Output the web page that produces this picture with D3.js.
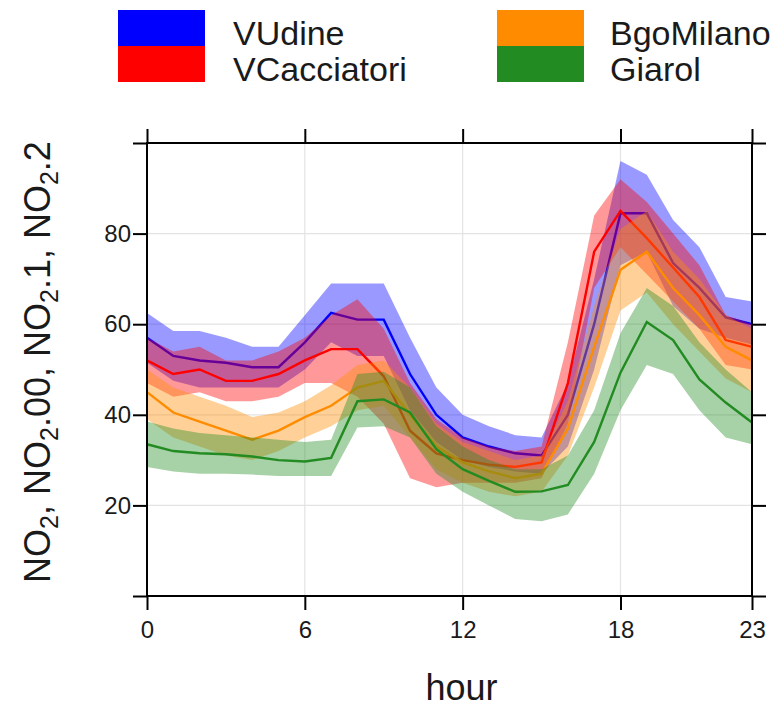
<!DOCTYPE html>
<html>
<head>
<meta charset="utf-8">
<script src="https://cdn.jsdelivr.net/npm/d3@7"></script>
<style>
  body { margin: 0; background: #fff; }
  svg text { font-family: "Liberation Sans", Arial, sans-serif; fill: #1a1a1a; }
</style>
</head>
<body>
<div id="chart"></div>
<script>
var hours = d3.range(0, 24);
var sites = ["VUdine", "VCacciatori", "BgoMilano", "Giarol"];
var siteColors = ["#0000ff", "#ff0000", "#ff8c00", "#228b22"];
var xTicks = [0, 6, 12, 18, 23];
var yTicks = [0, 20, 40, 60, 80, 100];
var yTickLabels = ["", "20", "40", "60", "80", ""];

var udineMean  = [57, 53, 52, 51.5, 50.5, 50.5, 56, 62.5, 61, 61, 49, 40, 35, 33, 31.5, 31, 40, 60, 84.5, 84.5, 73.5, 68, 61.5, 60];
var udineUpper = [62.5, 58.5, 58.5, 57, 55, 55, 62, 69, 69, 69, 57, 46, 40, 37.5, 35.5, 35, 47, 70, 96, 93, 83, 77, 66, 65];
var udineLower = [51.5, 47.5, 46, 46, 46, 46, 50, 56, 53, 53, 41, 34, 30, 28.5, 27.5, 27, 33, 50, 73, 76, 64, 59, 57, 55.5];

var cacciaMean  = [52, 49, 50, 47.5, 47.5, 49, 52, 54.5, 54.5, 48.5, 36.5, 31.5, 30, 29, 28.5, 29.5, 47, 76, 85, 79, 72.5, 66, 56.5, 55];
var cacciaUpper = [57, 54, 55, 52, 52, 54, 57, 62, 65.5, 59, 47, 39, 35, 33, 32, 33, 56, 84, 92, 87, 80, 73, 62, 60];
var cacciaLower = [47, 44, 45, 43, 43, 44, 47, 47, 44, 38, 26, 24, 25, 25, 25, 26, 38, 68, 77, 71, 65, 59, 51, 50];

var milanoMean  = [45, 40.5, 38.5, 36.5, 34.5, 36.5, 39.5, 42, 46, 47.5, 40, 33, 29.5, 27.5, 26, 27, 37, 55, 72, 76, 68, 62, 55, 52];
var milanoUpper = [50, 46, 44, 42, 39.5, 40.5, 43, 46.5, 51, 52, 46, 38, 34, 32, 30, 31, 43, 64, 81, 85, 76, 70, 62, 59];
var milanoLower = [39, 35, 33, 31, 30, 32, 35, 37.5, 41, 42, 35, 28, 25, 23, 22, 23, 31, 46, 63, 67, 60, 54, 48, 45];

var giarolMean  = [33.5, 32, 31.5, 31.3, 30.8, 30, 29.7, 30.5, 43, 43.4, 40.5, 32.4, 28, 25.4, 23, 23.1, 24.5, 34, 49.3, 60.5, 56.5, 47.8, 42.7, 38.3];
var giarolUpper = [38.5, 37, 36, 35.5, 35, 34.5, 34, 34.5, 49, 49.5, 46, 37.5, 33, 30, 28, 28, 31, 41, 58, 68, 64, 56, 50, 45];
var giarolLower = [28.5, 27.5, 27, 27, 26.8, 26.5, 26.5, 26.5, 37.2, 37.5, 35, 27, 23, 20, 17, 16.5, 18, 27, 41, 51, 49, 41, 35, 33.5];

var means  = [udineMean, cacciaMean, milanoMean, giarolMean];
var uppers = [udineUpper, cacciaUpper, milanoUpper, giarolUpper];
var lowers = [udineLower, cacciaLower, milanoLower, giarolLower];

var w = 773, h = 709;
var box = { left: 147, right: 752, top: 143, bottom: 596 };

var svg = d3.select("#chart").append("svg")
  .attr("width", w)
  .attr("height", h);

var x = d3.scaleLinear().domain([0, 23]).range([box.left, box.right]);
var y = d3.scaleLinear().domain([0, 100]).range([box.bottom, box.top]);

// grid
svg.append("g").selectAll("line.gx")
  .data([6, 12, 18]).enter().append("line")
  .attr("x1", function(d) { return x(d); }).attr("x2", function(d) { return x(d); })
  .attr("y1", box.top).attr("y2", box.bottom)
  .attr("stroke", "#e3e3e3").attr("stroke-width", 1.2);
svg.append("g").selectAll("line.gy")
  .data([20, 40, 60, 80]).enter().append("line")
  .attr("x1", box.left).attr("x2", box.right)
  .attr("y1", function(d) { return y(d); }).attr("y2", function(d) { return y(d); })
  .attr("stroke", "#e3e3e3").attr("stroke-width", 1.2);

// bands and lines, drawn site by site
var area = d3.area()
  .x(function(d) { return x(d.hour); })
  .y0(function(d) { return y(d.lo); })
  .y1(function(d) { return y(d.hi); });
var line = d3.line()
  .x(function(d) { return x(d.hour); })
  .y(function(d) { return y(d.mean); });

var plot = svg.append("g");
sites.forEach(function(site, i) {
  var rows = hours.map(function(hr, j) {
    return { hour: hr, mean: means[i][j], lo: lowers[i][j], hi: uppers[i][j] };
  });
  plot.append("path")
    .datum(rows)
    .attr("d", area)
    .attr("fill", siteColors[i])
    .attr("fill-opacity", 0.4);
  plot.append("path")
    .datum(rows)
    .attr("d", line)
    .attr("fill", "none")
    .attr("stroke", siteColors[i])
    .attr("stroke-width", 2.4);
});

// axes
var tickLen = 14;
svg.append("g").attr("transform", "translate(0," + box.bottom + ")")
  .call(d3.axisBottom(x).tickValues(xTicks).tickSize(tickLen).tickPadding(11))
  .call(styleAxis);
svg.append("g").attr("transform", "translate(0," + box.top + ")")
  .call(d3.axisTop(x).tickValues(xTicks).tickSize(tickLen).tickFormat(""))
  .call(styleAxis);
svg.append("g").attr("transform", "translate(" + box.left + ",0)")
  .call(d3.axisLeft(y).tickValues(yTicks).tickSize(tickLen).tickPadding(2)
    .tickFormat(function(d, i) { return yTickLabels[i]; }))
  .call(styleAxis);
svg.append("g").attr("transform", "translate(" + box.right + ",0)")
  .call(d3.axisRight(y).tickValues(yTicks).tickSize(tickLen).tickFormat(""))
  .call(styleAxis);

function styleAxis(g) {
  g.select(".domain").remove();
  g.selectAll(".tick line").attr("stroke", "#000").attr("stroke-width", 2);
  g.selectAll(".tick text").attr("font-size", 24).attr("fill", "#1a1a1a")
    .style("font-family", "'Liberation Sans', Arial, sans-serif");
}

svg.append("rect")
  .attr("x", box.left).attr("y", box.top)
  .attr("width", box.right - box.left).attr("height", box.bottom - box.top)
  .attr("fill", "none").attr("stroke", "#000").attr("stroke-width", 2);

// axis titles
svg.append("text")
  .attr("x", (box.left + box.right) / 2 + 12)
  .attr("y", 700)
  .attr("text-anchor", "middle")
  .attr("font-size", 36)
  .text("hour");

var ylab = svg.append("text")
  .attr("transform", "translate(50,362) rotate(-90)")
  .attr("text-anchor", "middle")
  .attr("font-size", 36);
var labParts = [", ", ".00, ", ".1, ", ".2"];
labParts.forEach(function(p) {
  ylab.append("tspan").text("NO");
  ylab.append("tspan").attr("font-size", 25).attr("dy", 8).text("2");
  ylab.append("tspan").attr("dy", -8).text(p);
});

// legend
var legend = svg.append("g");
var legX = [118, 118, 497, 497];
var legY = [10, 46, 10, 46];
var legTextX = [233, 233, 610, 610];
sites.forEach(function(site, i) {
  legend.append("rect")
    .attr("x", legX[i]).attr("y", legY[i])
    .attr("width", 87).attr("height", 36)
    .attr("fill", siteColors[i]);
  legend.append("text")
    .attr("x", legTextX[i]).attr("y", legY[i] + 35)
    .attr("font-size", 34)
    .text(site);
});
</script>
</body>
</html>
